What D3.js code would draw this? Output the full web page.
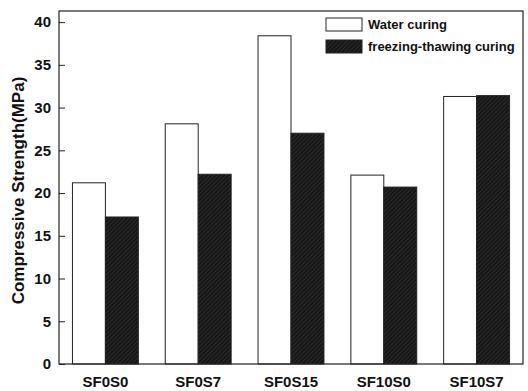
<!DOCTYPE html>
<html>
<head>
<meta charset="utf-8">
<script src="https://cdn.jsdelivr.net/npm/d3@7"></script>
<style>
  body { margin: 0; background: #fff; }
  text { font-family: "Liberation Sans", Arial, sans-serif; font-weight: bold; fill: #111; }
</style>
</head>
<body>
<div id="chart"></div>
<script>
// values
const mixes = ['SF0S0', 'SF0S7', 'SF0S15', 'SF10S0', 'SF10S7'];
const waterCuring = [21.2, 28.1, 38.4, 22.1, 31.3];
const freezeThawCuring = [17.2, 22.2, 27.0, 20.7, 31.4];
const seriesNames = ['Water curing', 'freezing-thawing curing'];
const yTicks = [0, 5, 10, 15, 20, 25, 30, 35, 40];

const width = 528, height = 391;
const margin = { top: 11, right: 5, bottom: 27, left: 59 };
const innerW = width - margin.left - margin.right;
const innerH = height - margin.top - margin.bottom;

const svg = d3.select('#chart')
  .append('svg')
  .attr('width', width)
  .attr('height', height);

// dark hatched fill, like the scanned original
const defs = svg.append('defs');
const pat = defs.append('pattern')
  .attr('id', 'hatch')
  .attr('patternUnits', 'userSpaceOnUse')
  .attr('width', 3)
  .attr('height', 3)
  .attr('patternTransform', 'rotate(45)');
pat.append('rect').attr('width', 3).attr('height', 3).attr('fill', '#161616');
pat.append('line')
  .attr('x1', 0).attr('y1', 0).attr('x2', 0).attr('y2', 3)
  .attr('stroke', '#4a4a4a').attr('stroke-width', 0.8);

const g = svg.append('g')
  .attr('transform', `translate(${margin.left},${margin.top})`);

const x = d3.scaleBand()
  .domain(mixes)
  .range([0, innerW])
  .paddingInner(0.29)
  .paddingOuter(0.145);

const y = d3.scaleLinear()
  .domain([0, 41.3])
  .range([innerH, 0]);

const sub = d3.scaleBand()
  .domain(seriesNames)
  .range([0, x.bandwidth()]);

const rows = mixes.map((m, i) => ({ mix: m, vals: [waterCuring[i], freezeThawCuring[i]] }));

const groups = g.selectAll('.grp')
  .data(rows)
  .enter()
  .append('g')
  .attr('transform', d => `translate(${x(d.mix)},0)`);

groups.selectAll('rect')
  .data(d => d.vals.map((v, k) => ({ name: seriesNames[k], v })))
  .enter()
  .append('rect')
  .attr('x', d => sub(d.name))
  .attr('y', d => y(d.v))
  .attr('width', sub.bandwidth())
  .attr('height', d => innerH - y(d.v))
  .attr('fill', d => (d.name === seriesNames[0] ? '#fff' : 'url(#hatch)'))
  .attr('stroke', '#222')
  .attr('stroke-width', 1);

// frame
g.append('rect')
  .attr('width', innerW)
  .attr('height', innerH)
  .attr('fill', 'none')
  .attr('stroke', '#222')
  .attr('stroke-width', 1.2);

// y axis, ticks pointing inward
const yAxis = g.append('g')
  .call(d3.axisLeft(y).tickValues(yTicks).tickSize(-6).tickPadding(8));
yAxis.select('.domain').remove();
yAxis.selectAll('line').attr('stroke', '#222');
yAxis.selectAll('text')
  .style('font-size', '15px')
  .style('font-family', '"Liberation Sans", Arial, sans-serif')
  .style('font-weight', 'bold')
  .attr('fill', '#111');

// x axis labels
const xAxis = g.append('g')
  .attr('transform', `translate(0,${innerH})`)
  .call(d3.axisBottom(x).tickSize(0).tickPadding(12));
xAxis.select('.domain').remove();
xAxis.selectAll('text')
  .style('font-size', '15px')
  .style('font-family', '"Liberation Sans", Arial, sans-serif')
  .style('font-weight', 'bold')
  .attr('fill', '#111');

// axis title
svg.append('text')
  .attr('transform', `translate(24,${margin.top + innerH / 2 + 3}) rotate(-90)`)
  .attr('text-anchor', 'middle')
  .style('font-size', '17px')
  .text('Compressive Strength(MPa)');

// legend
const legend = svg.append('g').attr('transform', 'translate(326,18)');
seriesNames.forEach((name, k) => {
  const row = legend.append('g').attr('transform', `translate(0,${k * 22})`);
  row.append('rect')
    .attr('width', 36)
    .attr('height', 13)
    .attr('fill', k === 0 ? '#fff' : 'url(#hatch)')
    .attr('stroke', '#222');
  row.append('text')
    .attr('x', 42)
    .attr('y', 11)
    .style('font-size', '13px')
    .text(name);
});
</script>
</body>
</html>
